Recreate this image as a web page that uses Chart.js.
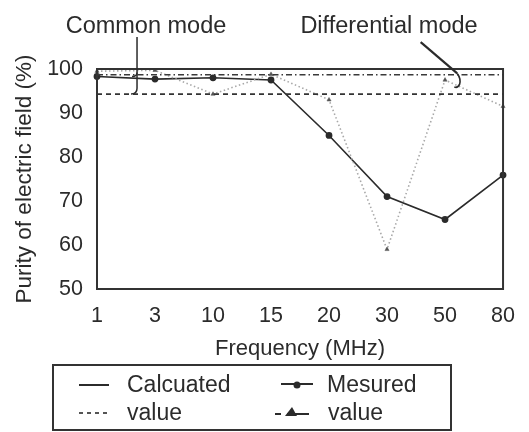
<!DOCTYPE html>
<html>
<head>
<meta charset="utf-8">
<script src="https://cdn.jsdelivr.net/npm/chart.js@4.4.1/dist/chart.umd.min.js"></script>
<style>
html,body{margin:0;padding:0;background:#fff;}
#wrap{position:relative;width:529px;height:432px;overflow:hidden;}
#chart{position:absolute;left:0;top:0;}
.txt{position:absolute;font-family:"Liberation Sans",Arial,Helvetica,sans-serif;color:#2b2b2b;white-space:nowrap;line-height:24px;font-size:23px;}
.ann{transform:translateX(-50%);font-size:23.5px;}
#legend{position:absolute;left:52px;top:364px;width:400px;height:67px;border:2px solid #333;box-sizing:border-box;}
#legend svg{position:absolute;}
</style>
</head>
<body>
<div id="wrap">
  <canvas id="chart" width="529" height="432"></canvas>
  <div class="txt ann" style="left:146px;top:13px;">Common mode</div>
  <div class="txt ann" style="left:389px;top:13px;">Differential mode</div>
  <div id="legend">
    <svg style="left:24px;top:12px;" width="32" height="14"><line x1="1" y1="7" x2="31" y2="7" stroke="#2b2b2b" stroke-width="2"/></svg>
    <div class="txt" style="left:73px;top:6px;">Calcuated</div>
    <svg style="left:24px;top:40px;" width="32" height="14"><line x1="1" y1="7" x2="31" y2="7" stroke="#555" stroke-width="2" stroke-dasharray="4,4"/></svg>
    <div class="txt" style="left:73px;top:34px;">value</div>
    <svg style="left:226px;top:12px;" width="34" height="14"><line x1="1" y1="6" x2="33" y2="6" stroke="#2b2b2b" stroke-width="2"/><circle cx="17" cy="7" r="3.5" fill="#2b2b2b"/></svg>
    <div class="txt" style="left:273px;top:6px;">Mesured</div>
    <svg style="left:220px;top:40px;" width="36" height="14"><line x1="1" y1="8" x2="7" y2="8" stroke="#2b2b2b" stroke-width="2"/><line x1="13" y1="8" x2="35" y2="8" stroke="#2b2b2b" stroke-width="2"/><polygon points="11,10 18,1 23,10" fill="#2b2b2b"/></svg>
    <div class="txt" style="left:274px;top:34px;">value</div>
  </div>
</div>
<script>
const categories = ['1', '3', '10', '15', '20', '30', '50', '80'];
const commonMeasured = [98.3, 97.7, 98.0, 97.5, 84.9, 71.0, 65.8, 75.9];
const diffMeasured = [99.5, 99.7, 94.3, 98.8, 93.0, 59.0, 97.5, 91.5];
const diffCalculated = [98.7, 98.7, 98.7, 98.7, 98.7, 98.7, 98.7, 98.7];
const commonCalculated = [94.3, 94.3, 94.3, 94.3, 94.3, 94.3, 94.3, 94.3];
const yTicks = [50, 60, 70, 80, 90, 100];
const yTitle = 'Purity of electric field (%)';
const xTitle = 'Frequency (MHz)';

const FONT = '"Liberation Sans", Arial, Helvetica, sans-serif';
const INK = '#2b2b2b';

const framePlugin = {
  id: 'frame',
  afterDatasetsDraw(chart) {
    const {ctx, chartArea: a, scales: {x, y}} = chart;
    ctx.save();
    ctx.strokeStyle = '#333';
    ctx.lineWidth = 2;
    ctx.strokeRect(a.left, a.top, a.right - a.left, a.bottom - a.top);
    // common mode brace
    ctx.lineWidth = 1.5;
    ctx.strokeStyle = INK;
    const bx = x.getPixelForValue(0.69);
    ctx.beginPath();
    ctx.moveTo(bx, y.getPixelForValue(107.3));
    ctx.lineTo(bx, y.getPixelForValue(95.6));
    ctx.quadraticCurveTo(bx, y.getPixelForValue(94.3), bx - 6, y.getPixelForValue(94.3));
    ctx.stroke();
    ctx.beginPath();
    ctx.moveTo(bx, y.getPixelForValue(99.2));
    ctx.quadraticCurveTo(bx, y.getPixelForValue(98.3), bx - 5, y.getPixelForValue(98.3));
    ctx.stroke();
    // differential mode arrow + hook
    ctx.lineWidth = 2.2;
    ctx.beginPath();
    ctx.moveTo(x.getPixelForValue(5.58), y.getPixelForValue(106.1));
    ctx.lineTo(x.getPixelForValue(6.21), y.getPixelForValue(99.0));
    ctx.stroke();
    ctx.lineWidth = 1.6;
    ctx.beginPath();
    ctx.moveTo(x.getPixelForValue(6.21), y.getPixelForValue(99.0));
    ctx.quadraticCurveTo(x.getPixelForValue(6.28), y.getPixelForValue(97.8), x.getPixelForValue(6.25), y.getPixelForValue(96.5));
    ctx.quadraticCurveTo(x.getPixelForValue(6.22), y.getPixelForValue(95.6), x.getPixelForValue(6.16), y.getPixelForValue(95.9));
    ctx.stroke();
    ctx.restore();
  }
};

new Chart(document.getElementById('chart'), {
  type: 'line',
  data: {
    labels: categories,
    datasets: [
      {
        label: 'Calculated (differential)',
        data: diffCalculated,
        borderColor: '#3a3a3a',
        borderWidth: 1.6,
        borderDash: [6, 3, 1.5, 3],
        pointRadius: 0,
        fill: false
      },
      {
        label: 'Calculated (common)',
        data: commonCalculated,
        borderColor: '#333',
        borderWidth: 1.6,
        borderDash: [5, 4],
        pointRadius: 0,
        fill: false
      },
      {
        label: 'Measured (differential)',
        data: diffMeasured,
        borderColor: '#a8a8a8',
        borderWidth: 1.6,
        borderDash: [1.5, 2.5],
        pointStyle: 'triangle',
        pointRadius: 2.4,
        pointBackgroundColor: '#555',
        pointBorderColor: '#555',
        pointBorderWidth: 0.5,
        fill: false
      },
      {
        label: 'Measured (common)',
        data: commonMeasured,
        borderColor: INK,
        borderWidth: 1.6,
        pointStyle: 'circle',
        pointRadius: 2.6,
        pointBackgroundColor: INK,
        pointBorderColor: INK,
        fill: false
      }
    ]
  },
  options: {
    responsive: false,
    animation: false,
    devicePixelRatio: 1,
    layout: { padding: { top: 69, right: 14, bottom: 70, left: 0 } },
    plugins: { legend: { display: false }, tooltip: { enabled: false } },
    scales: {
      x: {
        type: 'category',
        offset: false,
        grid: { display: false, drawTicks: false },
        border: { display: false },
        ticks: { color: INK, font: { family: FONT, size: 21.5 }, padding: 14, maxRotation: 0, autoSkip: false },
        title: { display: true, text: xTitle, color: INK, font: { family: FONT, size: 22 }, padding: { top: 0, bottom: 0 } },
        afterFit(s) { s.height = 73; }
      },
      y: {
        min: 50,
        max: 100,
        grid: { display: false, drawTicks: false },
        border: { display: false },
        afterBuildTicks(s) { s.ticks = yTicks.map(v => ({ value: v })); },
        ticks: { color: INK, font: { family: FONT, size: 21.5 }, padding: 14 },
        title: { display: true, text: yTitle, color: INK, font: { family: FONT, size: 22.5 }, padding: { top: 11, bottom: 0 } },
        afterFit(s) { s.width = 97; }
      }
    }
  },
  plugins: [framePlugin]
});
</script>
</body>
</html>
